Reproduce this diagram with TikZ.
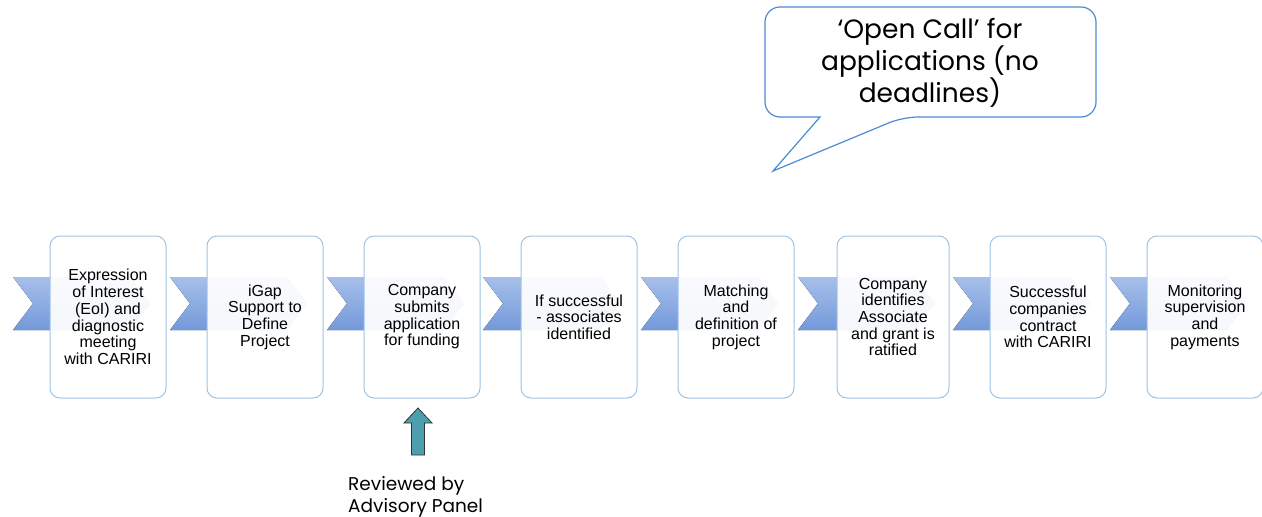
\documentclass[tikz,border=0pt]{standalone}
\usepackage{fontspec}
\setmainfont{Liberation Sans}
\newfontfamily\popfont{Poppins}
\begin{document}
\begin{tikzpicture}[x=1pt,y=-1pt,
  chev/.style={top color=chevtop,bottom color=chevbot,draw=none},
  stepbox/.style={draw=boxline,line width=1pt,fill=white,fill opacity=0.93,text opacity=1,draw opacity=1,
    rounded corners=10pt,minimum width=116pt,minimum height=162pt,inner sep=0pt,
    align=center,font=\fontsize{16}{16.7}\selectfont,text=black},
  bubtext/.style={font=\popfont\fontsize{26.5}{31.7}\selectfont,align=center,text=black},
  lbl/.style={font=\popfont\fontsize{18.5}{22}\selectfont,align=left,text=black,inner sep=0pt}]
\definecolor{chevtop}{HTML}{A7BFEA}
\definecolor{chevbot}{HTML}{7399DA}
\definecolor{boxline}{HTML}{9DC3E6}
\definecolor{bubline}{HTML}{4A8BD6}
\definecolor{teal}{HTML}{4E9FAD}
\useasboundingbox (0,0) rectangle (1262,517);
% chevrons
\foreach \L in {13,170,327,483,641,798,953,1110}{
  \fill[chev] (\L,277) -- (\L+117,277) -- (\L+137,303.5) -- (\L+117,330) -- (\L,330) -- (\L+20,303.5) -- cycle;
}
% boxes
\node[stepbox] (b1) at (108,317) {Expression\\of Interest\\(EoI) and\\diagnostic\\meeting\\with CARIRI};
\node[stepbox] (b2) at (265,317) {iGap\\Support to\\Define\\Project};
\node[stepbox] (b3) at (422,317) {Company\\submits\\application\\for funding};
\node[stepbox] (b4) at (579,317) {If successful\\- associates\\identified};
\node[stepbox] (b5) at (736,317) {Matching\\and\\definition of\\project};
\node[stepbox,minimum width=112pt] (b6) at (893,317) {Company\\identifies\\Associate\\and grant is\\ratified};
\node[stepbox] (b7) at (1048,317) {Successful\\companies\\contract\\with CARIRI};
\node[stepbox] (b8) at (1205,317) {Monitoring\\supervision\\and\\payments};
% speech bubble
\draw[bubline,line width=1.2pt,fill=white,rounded corners=15pt]
  (765,62) -- (765,7) -- (1096,7) -- (1096,117) -- (903,117) [sharp corners] -- (773,171) -- (820,117) [rounded corners=15pt] -- (765,117) -- cycle;
\node[bubtext] (bub) at (930,63) {‘Open Call’ for\\applications (no\\deadlines)};
% up arrow
\coordinate (tip) at (418,408);
\draw[fill=teal,draw=black!80,line width=0.8pt]
  (tip) -- (432,423) -- (424.5,423) -- (424.5,455) -- (411.5,455) -- (411.5,423) -- (404,423) -- cycle;
\node[lbl,anchor=north west] (rev) at (348,476) {Reviewed by\\Advisory Panel};
\end{tikzpicture}
\end{document}
